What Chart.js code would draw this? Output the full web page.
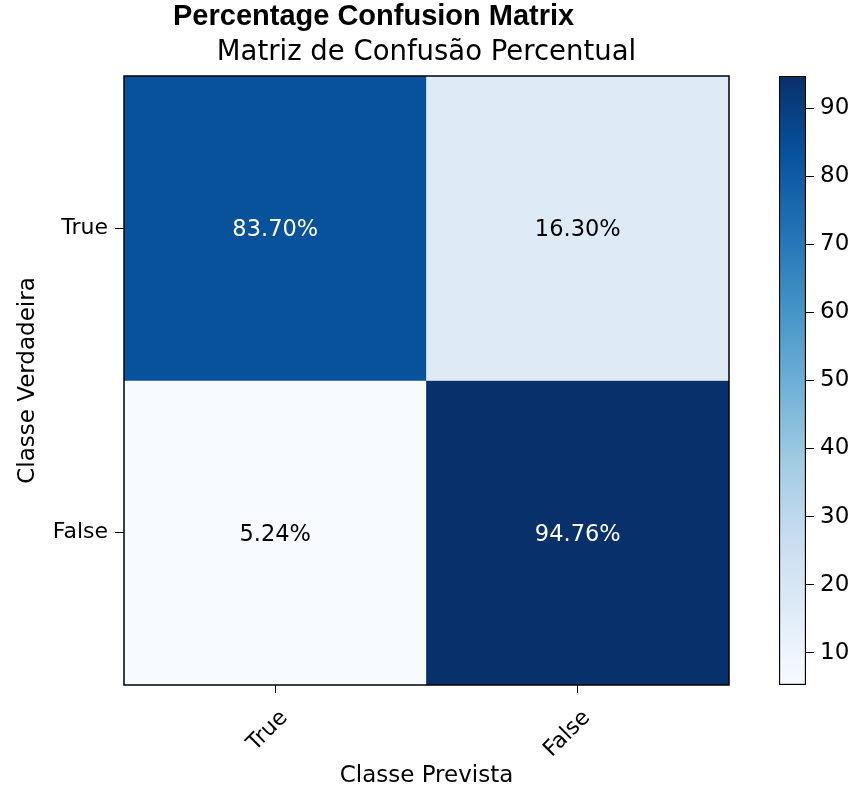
<!DOCTYPE html>
<html><head><meta charset="utf-8">
<script src="https://cdn.jsdelivr.net/npm/chart.js@4.4.1/dist/chart.umd.min.js"></script>
<style>
html,body{margin:0;padding:0;background:#fff;width:856px;height:790px;overflow:hidden;}
#wrap{position:relative;width:856px;height:790px;}
#title{position:absolute;left:173px;top:1px;font:bold 29px 'Liberation Sans',Arial,sans-serif;line-height:1;color:#000;white-space:nowrap;}
#main{position:absolute;left:0;top:0;width:853px;height:790px;}
#cbar{position:absolute;left:740px;top:0;width:116px;height:790px;}
</style></head><body>
<div id="wrap">
<div id="main"><canvas id="c1"></canvas></div>
<div id="cbar"><canvas id="c2"></canvas></div>
<div id="title">Percentage Confusion Matrix</div>
</div>
<script>
// ---- data ----
const subTitle = 'Matriz de Confusão Percentual';
const trueLabels = ['True', 'False'];      // rows (Classe Verdadeira)
const predLabels = ['True', 'False'];      // columns (Classe Prevista)
const rowTrue  = [83.70, 16.30];
const rowFalse = [5.24, 94.76];
const colorbarTicks = [10, 20, 30, 40, 50, 60, 70, 80, 90];
const xAxisTitle = 'Classe Prevista';
const yAxisTitle = 'Classe Verdadeira';

const matrix = [rowTrue, rowFalse];
const vmin = Math.min(...rowTrue, ...rowFalse);
const vmax = Math.max(...rowTrue, ...rowFalse);

// matplotlib "Blues"
const BLUES = ['#f7fbff','#deebf7','#c6dbef','#9ecae1','#6baed6','#4292c6','#2171b5','#08519c','#08306b'];
function hex2rgb(h){return [parseInt(h.slice(1,3),16),parseInt(h.slice(3,5),16),parseInt(h.slice(5,7),16)];}
function blues(v){
  let t = (v - vmin) / (vmax - vmin);
  t = Math.max(0, Math.min(1, t));
  const n = BLUES.length - 1;
  const i = Math.min(n - 1, Math.floor(t * n));
  const f = t * n - i;
  const a = hex2rgb(BLUES[i]), b = hex2rgb(BLUES[i+1]);
  const c = a.map((x,k)=>Math.round(x + (b[k]-x)*f));
  return 'rgb(' + c.join(',') + ')';
}

Chart.defaults.font.family = "'DejaVu Sans', sans-serif";
Chart.defaults.color = '#000';

const FONT = 22;
const AXFONT = 23;

const framePlugin = {
  id: 'frame',
  afterDatasetsDraw(chart) {
    const {ctx, chartArea: a} = chart;
    ctx.save();
    ctx.strokeStyle = '#000';
    ctx.lineWidth = 1.5;
    ctx.strokeRect(a.left, a.top, a.right - a.left, a.bottom - a.top);
    ctx.restore();
  }
};

const cellLabels = {
  id: 'cellLabels',
  afterDatasetsDraw(chart) {
    const {ctx} = chart;
    ctx.save();
    ctx.font = "22.5px 'DejaVu Sans'";
    ctx.textAlign = 'center';
    ctx.textBaseline = 'middle';
    chart.data.datasets.forEach((ds, r) => {
      const meta = chart.getDatasetMeta(r);
      meta.data.forEach((el, c) => {
        const v = matrix[r][c];
        ctx.fillStyle = v > (vmax + vmin) / 2 ? '#ffffff' : '#000000';
        ctx.fillText(v.toFixed(2) + '%', el.x, (el.y + el.base) / 2 + 2);
      });
    });
    ctx.restore();
  }
};

new Chart(document.getElementById('c1'), {
  type: 'bar',
  data: {
    labels: predLabels,
    datasets: trueLabels.map((lab, r) => ({
      label: lab,
      data: predLabels.map(() => [r - 0.5, r + 0.5]),
      backgroundColor: matrix[r].map(blues),
      borderWidth: 0,
      grouped: false,
      barPercentage: 1,
      categoryPercentage: 1
    }))
  },
  options: {
    responsive: true,
    maintainAspectRatio: false,
    animation: false,
    layout: {padding: {left: 0, right: 0, top: 0, bottom: 0}},
    plugins: {
      legend: {display: false},
      tooltip: {enabled: false},
      title: {
        display: true, text: subTitle, color: '#000',
        font: {size: 27.5, weight: 'normal'},
        padding: {top: 36, bottom: 7}
      }
    },
    scales: {
      x: {
        type: 'category',
        offset: true,
        grid: {display: true, drawOnChartArea: false, drawTicks: true, tickLength: 8, color: '#000', offset: false},
        border: {display: false},
        ticks: {minRotation: 45, maxRotation: 45, font: {size: FONT}, color: '#000', padding: 12, labelOffset: 9},
        title: {display: true, text: xAxisTitle, font: {size: AXFONT}, color: '#000', padding: {top: 0, bottom: 0}},
        afterFit: s => { s.height = 105; }
      },
      y: {
        type: 'linear',
        min: -0.5, max: 1.5, reverse: true,
        afterBuildTicks: s => { s.ticks = trueLabels.map((_, i) => ({value: i})); },
        ticks: {callback: v => trueLabels[v], font: {size: FONT}, color: '#000', padding: 7},
        grid: {display: true, drawOnChartArea: false, drawTicks: true, tickLength: 9, color: '#000'},
        border: {display: false},
        title: {display: true, text: yAxisTitle, font: {size: AXFONT}, color: '#000', padding: {top: 14, bottom: 0}},
        afterFit: s => { s.width = 124; }
      },
      yRight: {
        type: 'linear',
        position: 'right',
        display: true,
        ticks: {display: false},
        grid: {display: false},
        border: {display: false},
        afterFit: s => { s.width = 124; }
      }
    }
  },
  plugins: [framePlugin, cellLabels]
});

new Chart(document.getElementById('c2'), {
  type: 'bar',
  data: {
    labels: ['colorbar'],
    datasets: [{
      data: [[vmin, vmax]],
      backgroundColor: (c) => {
        const ch = c.chart;
        if (!ch.chartArea) return BLUES[4];
        const y = ch.scales.y;
        const g = ch.ctx.createLinearGradient(0, y.getPixelForValue(vmin), 0, y.getPixelForValue(vmax));
        BLUES.forEach((col, i) => g.addColorStop(i / (BLUES.length - 1), col));
        return g;
      },
      borderColor: '#000',
      borderWidth: 1.5,
      borderSkipped: false,
      barPercentage: 1,
      categoryPercentage: 1
    }]
  },
  options: {
    responsive: true,
    maintainAspectRatio: false,
    animation: false,
    layout: {padding: {left: 39, right: 0, top: 76, bottom: 105}},
    plugins: {legend: {display: false}, tooltip: {enabled: false}},
    scales: {
      x: {display: false},
      y: {
        position: 'right',
        min: vmin, max: vmax,
        afterBuildTicks: s => { s.ticks = colorbarTicks.map(v => ({value: v})); },
        ticks: {font: {size: 23}, color: '#000', padding: 6},
        grid: {display: true, drawOnChartArea: false, drawTicks: true, tickLength: 8, color: '#000'},
        border: {display: false},
        afterFit: s => { s.width = 50; }
      }
    }
  }
});
</script>
</body></html>
